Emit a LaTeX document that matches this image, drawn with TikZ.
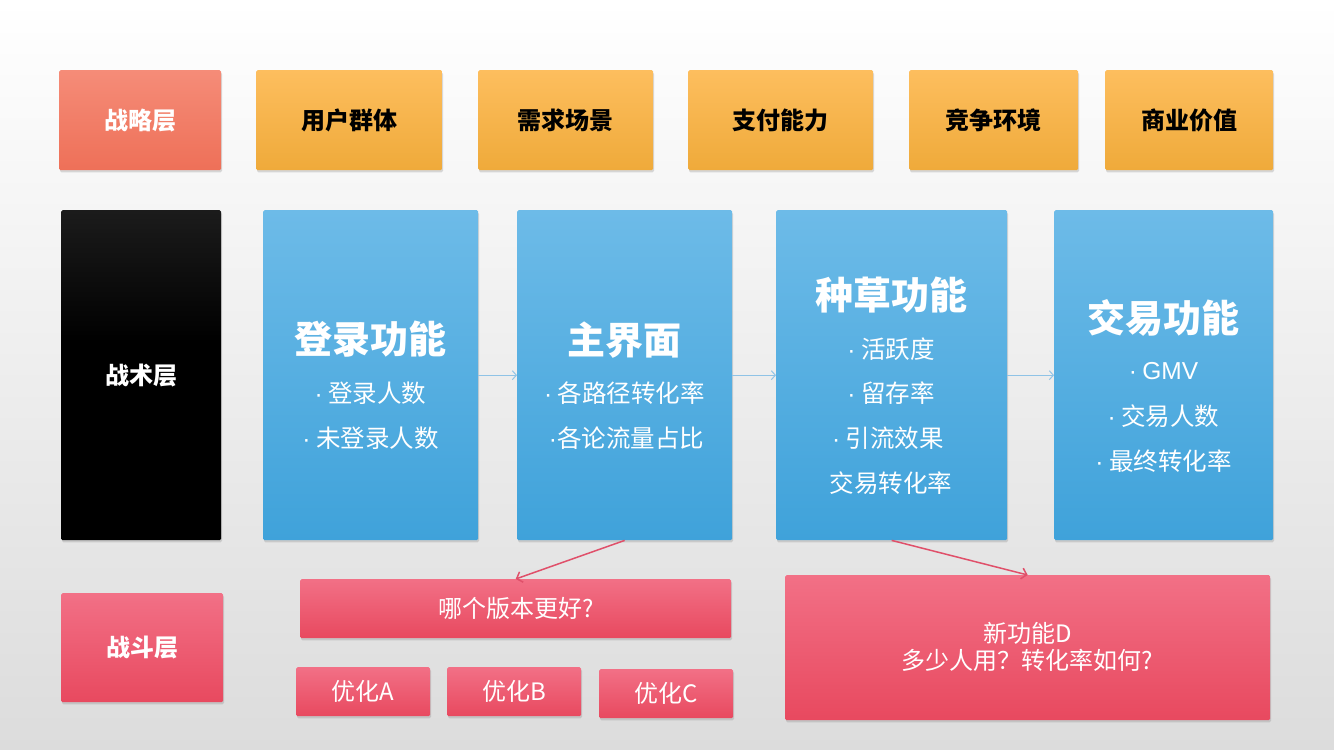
\documentclass[tikz,border=0pt]{standalone}
\usepackage{fontspec}
\newfontfamily\cjk{Noto Sans CJK SC}
\newfontfamily\lat{Liberation Sans}
\usetikzlibrary{shadows,arrows.meta}
\definecolor{salmonT}{HTML}{F58C78}
\definecolor{salmonB}{HTML}{EE7058}
\definecolor{orangeT}{HTML}{FDBE5E}
\definecolor{orangeB}{HTML}{EFAA3A}
\definecolor{blueT}{HTML}{6DBBE8}
\definecolor{blueB}{HTML}{3FA2DA}
\definecolor{redT}{HTML}{F27086}
\definecolor{redB}{HTML}{E8495F}
\definecolor{flowblue}{HTML}{8FC3E6}
\definecolor{linkred}{HTML}{E0506A}
\definecolor{bgB}{HTML}{DCDCDC}
\pgfdeclareverticalshading{blackfade}{100bp}{color(0bp)=(black); color(55bp)=(black); color(100bp)=(black!76)}
\newcommand{\dt}{{\lat ·}}
\begin{document}
\begin{tikzpicture}[x=1pt,y=-1pt,
  box/.style={rectangle, inner sep=0pt, anchor=north west, rounded corners=1.5pt,
    drop shadow={shadow xshift=0.8pt, shadow yshift=-2.2pt, opacity=0.28}},
  salmonbox/.style={box, top color=salmonT, bottom color=salmonB},
  orangebox/.style={box, top color=orangeT, bottom color=orangeB},
  bluebox/.style={box, top color=blueT, bottom color=blueB},
  redbox/.style={box, top color=redT, bottom color=redB},
  blackbox/.style={box, shading=blackfade},
  lbl/.style={font=\cjk\bfseries\fontsize{24}{28}\selectfont, text height=21.1pt, text depth=2.9pt, inner sep=0pt},
  ttl/.style={font=\cjk\bfseries\fontsize{38}{44}\selectfont, text=white, text height=33.4pt, text depth=4.6pt, inner sep=0pt},
  sub/.style={font=\cjk\fontsize{24.5}{29}\selectfont, text=white, text height=21.5pt, text depth=3pt, inner sep=0pt},
  rtxt/.style={font=\cjk\fontsize{24}{29}\selectfont, text=white, align=center, inner sep=0pt},
  flow/.style={draw=flowblue, line width=1pt, -{Straight Barb[length=4pt,width=9pt]}},
  link/.style={draw=linkred, line width=1.5pt, -{Straight Barb[length=5pt,width=11pt]}}
]
\useasboundingbox (0,0) rectangle (1334,750);
\fill[top color=white, bottom color=bgB] (0,0) rectangle (1334,750);

% strategy layer
\node[salmonbox, minimum width=162, minimum height=100] (s0) at (59,70) {};
\node[lbl, text=white] (s0t) at (s0.center) {战略层};
\node[orangebox, minimum width=186, minimum height=100] (s1) at (256,70) {};
\node[lbl] (s1t) at (s1.center) {用户群体};
\node[orangebox, minimum width=175, minimum height=100] (s2) at (478,70) {};
\node[lbl] (s2t) at (s2.center) {需求场景};
\node[orangebox, minimum width=185, minimum height=100] (s3) at (688,70) {};
\node[lbl] (s3t) at (s3.center) {支付能力};
\node[orangebox, minimum width=169, minimum height=100] (s4) at (909,70) {};
\node[lbl] (s4t) at (s4.center) {竞争环境};
\node[orangebox, minimum width=168, minimum height=100] (s5) at (1105,70) {};
\node[lbl] (s5t) at (s5.center) {商业价值};

% tactics layer
\node[blackbox, minimum width=160, minimum height=330] (k0) at (61,210) {};
\node[lbl, text=white] (k0t) at (k0.center) {战术层};

\node[bluebox, minimum width=215, minimum height=330] (b1) at (263,210) {};
\node[ttl] (b1t) at (370.5,339) {登录功能};
\node[sub] (b1a) at (370.5,393) {\dt\ 登录人数};
\node[sub] (b1b) at (370.5,438) {\dt\ 未登录人数};

\node[bluebox, minimum width=215, minimum height=330] (b2) at (517,210) {};
\node[ttl] (b2t) at (624.5,340) {主界面};
\node[sub] (b2a) at (624.5,393) {\dt\ 各路径转化率};
\node[sub] (b2b) at (626.5,438) {\dt 各论流量占比};

\node[bluebox, minimum width=231, minimum height=330] (b3) at (776,210) {};
\node[ttl] (b3t) at (891,295) {种草功能};
\node[sub] (b3a) at (891,349) {\dt\ 活跃度};
\node[sub] (b3b) at (891,393) {\dt\ 留存率};
\node[sub] (b3c) at (888,438) {\dt\ 引流效果};
\node[sub] (b3d) at (891,483) {交易转化率};

\node[bluebox, minimum width=219, minimum height=330] (b4) at (1054,210) {};
\node[ttl] (b4t) at (1163.5,318) {交易功能};
\node[sub] (b4a) at (1163.5,370) {\dt\ {\lat GMV}};
\node[sub] (b4b) at (1163.5,416) {\dt\ 交易人数};
\node[sub] (b4c) at (1163.5,461) {\dt\ 最终转化率};

\draw[flow] (b1.east) -- (b2.west);
\draw[flow] (b2.east) -- (b3.west);
\draw[flow] (b3.east) -- (b4.west);

% combat layer
\node[redbox, minimum width=162, minimum height=109] (c0) at (61,593) {};
\node[lbl, text=white] (c0t) at (c0.center) {战斗层};

\node[redbox, minimum width=431, minimum height=59] (q) at (300,579) {};
\node[rtxt] (qt) at (q.center) {哪个版本更好?};
\node[redbox, minimum width=134, minimum height=49] (oa) at (296,667) {};
\node[rtxt] (oat) at (oa.center) {优化A};
\node[redbox, minimum width=134, minimum height=49] (ob) at (447,667) {};
\node[rtxt] (obt) at (ob.center) {优化B};
\node[redbox, minimum width=134, minimum height=49] (oc) at (599,669) {};
\node[rtxt] (oct) at (oc.center) {优化C};

\node[redbox, minimum width=485, minimum height=145] (d) at (785,575) {};
\node[rtxt] (dtx) at (1027.5,647) {新功能D\\[-2pt]多少人用？转化率如何?};

\draw[link] (b2.south) -- (q.north);
\draw[link] (b3.south) -- (d.north);
\end{tikzpicture}
\end{document}
